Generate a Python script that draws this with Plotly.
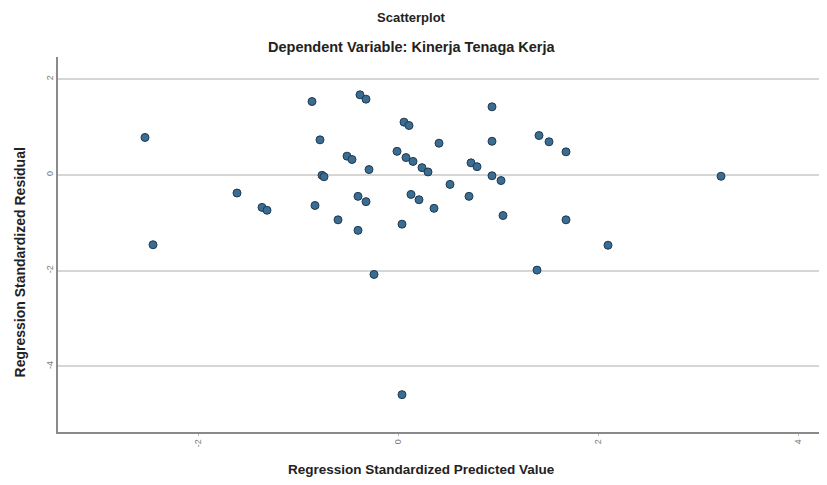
import plotly.graph_objects as go

pred = [-2.53, -2.45, -1.61, -1.36, -1.31, -0.86, -0.83, -0.78, -0.76, -0.74,
        -0.60, -0.51, -0.46, -0.40, -0.32, -0.40, -0.38, -0.32, -0.29, -0.24,
        -0.01, 0.04, 0.04, 0.06, 0.11, 0.08, 0.15, 0.13, 0.21, 0.24,
        0.30, 0.36, 0.41, 0.52, 0.71, 0.73, 0.79, 0.94, 0.94, 0.94,
        1.03, 1.05, 1.39, 1.41, 1.51, 1.68, 1.68, 2.10, 3.23]
resid = [0.78, -1.46, -0.38, -0.68, -0.74, 1.53, -0.64, 0.73, -0.01, -0.04,
         -0.94, 0.39, 0.32, -0.45, -0.56, -1.16, 1.67, 1.58, 0.11, -2.08,
         0.49, -1.03, -4.59, 1.10, 1.03, 0.36, 0.28, -0.41, -0.52, 0.15,
         0.06, -0.70, 0.66, -0.20, -0.45, 0.25, 0.17, 1.42, 0.70, -0.02,
         -0.12, -0.85, -1.99, 0.82, 0.69, 0.48, -0.94, -1.47, -0.03]

x_ticks = [-2, 0, 2, 4]
y_ticks = [2, 0, -2, -4]

title = "Scatterplot"
subtitle = "Dependent Variable: Kinerja Tenaga Kerja"
x_title = "Regression Standardized Predicted Value"
y_title = "Regression Standardized Residual"

fig = go.Figure()
fig.add_trace(go.Scatter(
    x=pred, y=resid, mode="markers",
    marker=dict(size=8, color="#3a6d91", line=dict(color="#1f3a52", width=1)),
    showlegend=False, hoverinfo="x+y",
))

font = "Liberation Sans, Arial, sans-serif"
fig.update_layout(
    width=827, height=485,
    margin=dict(l=50, r=8, t=49, b=61),
    paper_bgcolor="white", plot_bgcolor="white",
    font=dict(family=font, color="#222"),
    xaxis=dict(range=[-3.40, 4.29], tickvals=x_ticks, ticktext=[str(v) for v in x_ticks],
               showgrid=False, zeroline=False, showline=True, linecolor="#8a8a8a",
               linewidth=1.5, ticks="outside", ticklen=2, tickcolor="#bbb",
               tickangle=-90, tickfont=dict(size=9, color="#777")),
    yaxis=dict(range=[-5.37, 2.46], tickvals=y_ticks, ticktext=[str(v) for v in y_ticks],
               showgrid=True, gridcolor="#d6d6d6", gridwidth=1.5, zeroline=False,
               showline=True, linecolor="#8a8a8a", linewidth=1.5,
               ticks="", tickangle=-90, tickfont=dict(size=9, color="#777")),
    annotations=[
        dict(text="<b>" + title + "</b>", x=0.460, y=1.104, xref="paper", yref="paper",
             showarrow=False, font=dict(size=13, color="#222"), xanchor="center", yanchor="middle"),
        dict(text="<b>" + subtitle + "</b>", x=0.460, y=1.027, xref="paper", yref="paper",
             showarrow=False, font=dict(size=14.5, color="#222"), xanchor="center", yanchor="middle"),
        dict(text="<b>" + x_title + "</b>", x=0.473, y=-0.101, xref="paper", yref="paper",
             showarrow=False, font=dict(size=13.5, color="#222"), xanchor="center", yanchor="middle"),
        dict(text="<b>" + y_title + "</b>", x=-0.049, y=0.453, xref="paper", yref="paper",
             showarrow=False, textangle=-90, font=dict(size=14, color="#222"),
             xanchor="center", yanchor="middle"),
    ],
)

fig.write_html("out.html")
